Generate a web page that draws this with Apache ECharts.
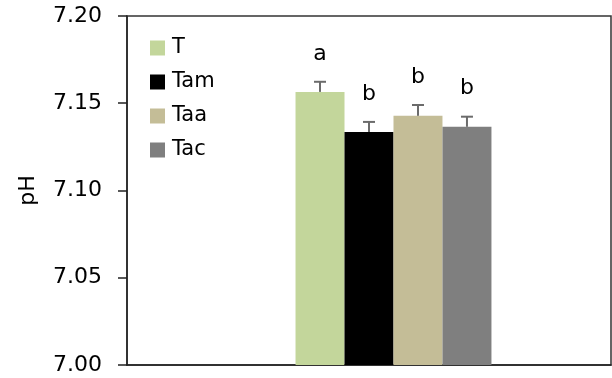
<!DOCTYPE html>
<html>
<head>
<meta charset="utf-8">
<script src="https://cdn.jsdelivr.net/npm/echarts@6/dist/echarts.min.js"></script>
<style>
  html, body { margin: 0; padding: 0; background: #fff; }
  #chart { width: 612px; height: 378px; }
</style>
</head>
<body>
<div id="chart"></div>
<script>
// Treatments, mean pH, standard error and significance letters
const treatments = ['T', 'Tam', 'Taa', 'Tac'];
const phMeans = [7.1565, 7.1335, 7.1428, 7.1365];
const phErrors = [0.0058, 0.0058, 0.0062, 0.0058];
const sigLetters = ['a', 'b', 'b', 'b'];
const yTicks = [7.00, 7.05, 7.10, 7.15, 7.20];

const colors = ['#c3d69b', '#000000', '#c4bd97', '#7f7f7f'];
const FONT = 'DejaVu Sans';
const CAT_GAP = 0.494;   // share of the band left empty
const SLOTS = 5;         // one leading empty slot + four treatments

const chart = echarts.init(document.getElementById('chart'));

const barSeries = [{
  name: '',
  type: 'bar',
  data: [null],
  barGap: '0%',
  barCategoryGap: (CAT_GAP * 100) + '%',
  silent: true
}];
treatments.forEach((t, i) => {
  barSeries.push({
    name: t,
    type: 'bar',
    data: [phMeans[i]],
    barGap: '0%',
    barCategoryGap: (CAT_GAP * 100) + '%',
    itemStyle: { color: colors[i] },
    z: 2
  });
});

const errorData = treatments.map((t, i) => [i, phMeans[i], phErrors[i]]);

const errorSeries = {
  type: 'custom',
  name: 'err',
  data: errorData,
  z: 5,
  silent: true,
  renderItem: function (params, api) {
    const idx = api.value(0);
    const mean = api.value(1);
    const err = api.value(2);
    const letter = sigLetters[idx];
    const band = api.size([1, 0])[0];
    const bw = band * (1 - CAT_GAP) / SLOTS;
    const center = api.coord([0, mean]);
    const x = center[0] + (idx + 1 - (SLOTS - 1) / 2) * bw;
    const yTop = api.coord([0, mean + err])[1];
    const yMid = center[1];
    const cap = 6;
    const style = { stroke: '#6b6b6b', lineWidth: 2 };
    return {
      type: 'group',
      children: [
        { type: 'line', shape: { x1: x, y1: yMid, x2: x, y2: yTop }, style: style },
        { type: 'line', shape: { x1: x - cap, y1: yTop, x2: x + cap, y2: yTop }, style: style },
        {
          type: 'text',
          style: {
            text: letter, x: x, y: yTop - 17,
            align: 'center', verticalAlign: 'bottom',
            font: '22px "' + FONT + '"', fill: '#000'
          }
        }
      ]
    };
  }
};

chart.setOption({
  animation: false,
  textStyle: { fontFamily: FONT },
  grid: {
    left: 127, right: 1, top: 16, bottom: 13,
    show: true, borderColor: '#333', borderWidth: 1.5
  },
  legend: {
    data: treatments,
    orient: 'vertical',
    left: 145, top: 32,
    itemWidth: 15, itemHeight: 15,
    itemGap: 12,
    icon: 'rect',
    textStyle: { fontSize: 21, color: '#000', fontFamily: FONT, lineHeight: 22, padding: [0, 0, 0, 2] },
    selectedMode: false
  },
  xAxis: {
    type: 'category',
    data: ['pH'],
    axisLine: { lineStyle: { color: '#222', width: 1.5 } },
    axisTick: { show: false },
    axisLabel: { show: false }
  },
  yAxis: {
    type: 'value',
    name: 'pH',
    nameLocation: 'middle',
    nameGap: 88,
    nameTextStyle: { fontSize: 22, color: '#000', fontFamily: FONT },
    min: yTicks[0],
    max: yTicks[yTicks.length - 1],
    interval: 0.05,
    axisLine: { show: true, lineStyle: { color: '#222', width: 1.5 } },
    axisTick: { show: true, inside: false, length: 9, lineStyle: { color: '#222', width: 1.5 } },
    axisLabel: {
      fontSize: 22, color: '#000', margin: 25, fontFamily: FONT,
      formatter: v => v.toFixed(2)
    },
    splitLine: { show: false }
  },
  series: barSeries.concat([errorSeries])
});
</script>
</body>
</html>
